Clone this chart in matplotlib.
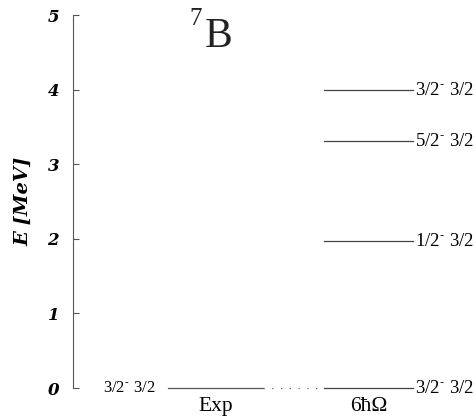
import matplotlib
matplotlib.use('Agg')
import matplotlib.pyplot as plt

plt.rcParams['mathtext.fontset'] = 'stix'

# level data
columns = ['Exp', '6ħΩ']
xpos = [1.0, 2.0]
exp_levels = [0.0]
exp_labels = [r'3/2$^{\text{-}}$ 3/2']
th_levels = [0.0, 1.97, 3.31, 3.99]
th_labels = [r'3/2$^{\text{-}}$ 3/2', r'1/2$^{\text{-}}$ 3/2',
             r'5/2$^{\text{-}}$ 3/2', r'3/2$^{\text{-}}$ 3/2']
yticks = [0, 1, 2, 3, 4, 5]

serif = ['Liberation Serif', 'DejaVu Serif']
hw = 0.31

fig = plt.figure(figsize=(4.77, 4.19), dpi=100)
ax = fig.add_axes([73 / 477, 31 / 419, 404 / 477, 373 / 419])
ax.set_xlim(0.069, 2.709)
ax.set_ylim(0, 5)

for e, lab in zip(exp_levels, exp_labels):
    ax.plot([xpos[0] - hw, xpos[0] + hw], [e, e], color='#555555', lw=0.9,
            clip_on=False)
    ax.text(xpos[0] - hw - 0.08, e, lab, ha='right', va='center',
            fontsize=12, family=serif)

for e, lab in zip(th_levels, th_labels):
    ax.plot([xpos[1] - 0.29, xpos[1] + 0.29], [e, e], color='#444444', lw=0.9,
            clip_on=False)
    ax.text(xpos[1] + 0.305, e, lab, ha='left', va='center',
            fontsize=13.5, family=serif)

# connect ground states
ax.plot([xpos[0] + hw, xpos[1] - 0.29], [exp_levels[0], th_levels[0]],
        color='#666666', lw=0.9, ls=(0, (1, 6)), clip_on=False)

for x, c in zip(xpos, columns):
    ax.text(x, -0.12, c, ha='center', va='top', fontsize=15.5, family=serif)

# nucleus name: 7B
ax.text(0.912, 4.86, '7', ha='right', va='baseline', fontsize=18,
        family=serif, color='#222222')
ax.text(0.928, 4.57, 'B', ha='left', va='baseline', fontsize=30,
        family=serif, color='#222222')

for s in ['top', 'right', 'bottom']:
    ax.spines[s].set_visible(False)
ax.spines['left'].set_color('#555555')
ax.spines['left'].set_linewidth(0.8)
ax.set_xticks([])
ax.set_yticks(yticks)
ax.tick_params(axis='y', direction='in', length=4, color='#555555', pad=10)
for t in ax.get_yticklabels():
    t.set_fontfamily('DejaVu Serif')
    t.set_fontstyle('italic')
    t.set_fontweight('bold')
    t.set_fontsize(12)
ax.set_ylabel('E [MeV]', fontsize=14, family='DejaVu Serif', style='italic',
              weight='bold', labelpad=11)

fig.savefig('out.png', dpi=100)
